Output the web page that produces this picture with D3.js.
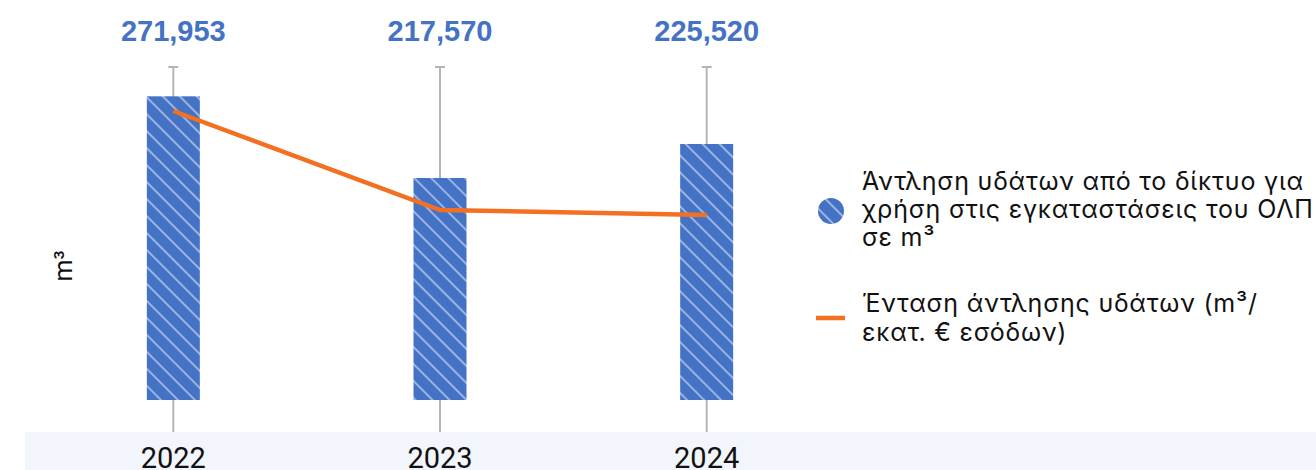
<!DOCTYPE html>
<html><head><meta charset="utf-8">
<script src="https://cdn.jsdelivr.net/npm/d3@7"></script>
<style>html,body{margin:0;padding:0;background:#fff;}svg{display:block;}</style>
</head><body>
<svg id="c" width="1316" height="470"></svg>
<script>
const years = ["2022", "2023", "2024"];
const valueLabels = ["271,953", "217,570", "225,520"];
const barValues = [271953, 198800, 229250];
const intensity = [1395, 917, 893];
const legendBar = ["Άντληση υδάτων από το δίκτυο για", "χρήση στις εγκαταστάσεις του ΟΛΠ", "σε m³"];
const legendLine = ["Ένταση άντλησης υδάτων (m³/", "εκατ. € εσόδων)"];
const yTitle = "m³";

const svg = d3.select("#c");
const font = "Roboto, 'Liberation Sans', Arial, sans-serif";
const legFont = "Inter, 'Noto Sans', sans-serif";
const blue = "#4472c4", orange = "#f36f21";

const defs = svg.append("defs");
const pat = defs.append("pattern").attr("id", "hatch").attr("patternUnits", "userSpaceOnUse")
  .attr("width", 12).attr("height", 12).attr("patternTransform", "rotate(45)");
pat.append("rect").attr("width", 12).attr("height", 12).attr("fill", blue);
pat.append("rect").attr("x", 0).attr("y", 0).attr("width", 12).attr("height", 2).attr("fill", "#9ab3e2");

const x = d3.scalePoint().domain(years).range([40, 840]).padding(0.5);
const y = d3.scaleLinear().domain([0, 300000]).range([400, 65]);
const yL = d3.scaleLinear().domain([0, 1395]).range([400, 111]);
const barW = 53;

// band
svg.append("rect").attr("x", 25).attr("y", 432).attr("width", 1291).attr("height", 38).attr("fill", "#f2f5fc");

// gray lines
const g = svg.append("g");
years.forEach(yr => {
  g.append("line").attr("x1", x(yr)).attr("x2", x(yr)).attr("y1", 66).attr("y2", 432)
    .attr("stroke", "#b5b5b5").attr("stroke-width", 2);
  g.append("line").attr("x1", x(yr) - 5).attr("x2", x(yr) + 5).attr("y1", 67).attr("y2", 67)
    .attr("stroke", "#b5b5b5").attr("stroke-width", 2);
});

// bars
svg.append("g").selectAll("rect").data(years).join("rect")
  .attr("x", d => x(d) - barW / 2).attr("width", barW)
  .attr("y", (d, i) => y(barValues[i])).attr("height", (d, i) => y(0) - y(barValues[i]))
  .attr("fill", "url(#hatch)");

// line
const line = d3.line().x((d, i) => x(years[i])).y(d => yL(d));
svg.append("path").datum(intensity).attr("d", line).attr("fill", "none")
  .attr("stroke", orange).attr("stroke-width", 4.5);

// value labels
svg.append("g").selectAll("text").data(years).join("text")
  .attr("x", d => x(d)).attr("y", 41).attr("text-anchor", "middle")
  .attr("font-family", "'Liberation Sans', Arial, sans-serif").attr("font-weight", "bold").attr("font-size", 29)
  .attr("fill", blue).text((d, i) => valueLabels[i]);

// year labels
svg.append("g").selectAll("text").data(years).join("text")
  .attr("x", d => x(d)).attr("y", 468).attr("text-anchor", "middle")
  .attr("font-family", font).attr("font-size", 29).attr("fill", "#111").text(d => d);

// y title
svg.append("text").attr("transform", "translate(72,266) rotate(-90)").attr("text-anchor", "middle")
  .attr("font-family", font).attr("font-size", 25).attr("fill", "#111").text(yTitle);

// legend
svg.append("circle").attr("cx", 831).attr("cy", 211).attr("r", 13).attr("fill", "url(#hatch)");
svg.append("g").selectAll("text").data(legendBar).join("text")
  .attr("x", 862).attr("y", (d, i) => 190 + i * 28)
  .attr("font-family", legFont).attr("font-size", 25).attr("letter-spacing", 0.8)
  .attr("fill", "#111").text(d => d);
svg.append("line").attr("x1", 816).attr("x2", 845).attr("y1", 318).attr("y2", 318)
  .attr("stroke", orange).attr("stroke-width", 4.5);
svg.append("g").selectAll("text").data(legendLine).join("text")
  .attr("x", 862).attr("y", (d, i) => 312 + i * 29)
  .attr("font-family", legFont).attr("font-size", 25).attr("letter-spacing", 0.8)
  .attr("fill", "#111").text(d => d);
</script>
</body></html>
